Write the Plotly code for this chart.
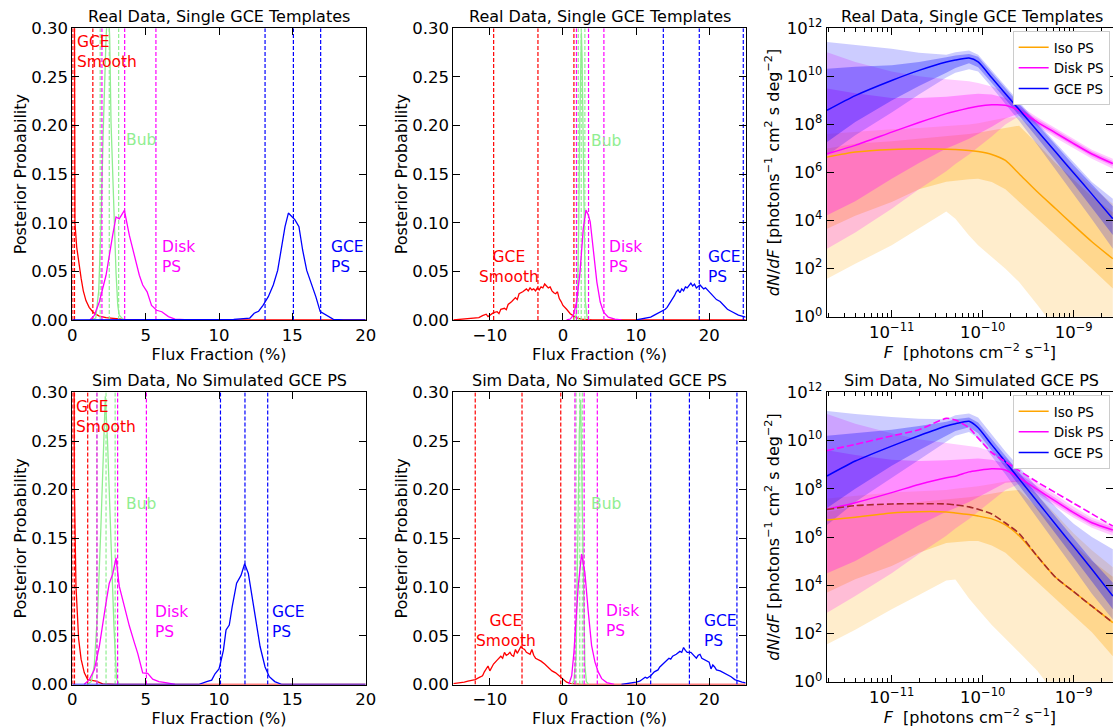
import plotly.graph_objects as go

W, H = 1113, 728
FONT = "DejaVu Sans"

RED, GREEN, MAG, BLUE, ORANGE, BROWN = "#ff0000", "#90ee90", "#ff00ff", "#0000ff", "#ffa500", "#a52a2a"

# ================= posterior histograms =================
# Panel A : Real Data, Single GCE Templates (flux fraction 0..20)
A_SMOOTH_X = [0.1, 0.18, 0.3, 0.45, 0.6, 0.75, 0.93, 1.15, 1.39, 1.6, 1.84, 2.3, 3.0, 3.5, 5.0, 20.0]
A_SMOOTH_Y = [0.6, 0.10, 0.075, 0.058, 0.043, 0.03, 0.02, 0.013, 0.0085, 0.006, 0.004, 0.0025, 0.0015, 0.0005, 0.0002, 0.0]
A_BUB_X = [1.3, 1.6, 1.8, 1.96, 2.1, 2.18, 2.3, 2.44, 2.55, 2.64, 2.8, 2.98, 3.1, 3.2, 3.5]
A_BUB_Y = [0, 0.002, 0.03, 0.10, 0.19, 0.24, 0.29, 0.33, 0.29, 0.203, 0.12, 0.049, 0.015, 0.005, 0]
A_DISK_X = [1.2, 1.5, 1.84, 2.3, 2.75, 2.98, 3.2, 3.55, 3.89, 4.23, 4.57, 4.8, 5.1, 5.4, 5.75, 6.1, 6.55, 7.0, 8.0]
A_DISK_Y = [0, 0.0048, 0.0185, 0.046, 0.087, 0.106, 0.104, 0.1127, 0.087, 0.066, 0.046, 0.036, 0.029, 0.015, 0.010, 0.0085, 0.0035, 0.001, 0]
A_GCE_X = [0, 10, 11, 12.1, 12.4, 12.7, 13.0, 13.36, 13.7, 14.0, 14.27, 14.5, 14.73, 14.95, 15.18, 15.45, 15.7, 15.98, 16.3, 16.6, 16.9, 17.1, 17.45, 17.8, 18.5, 20]
A_GCE_Y = [0, 0, 0.0005, 0.002, 0.007, 0.009, 0.015, 0.024, 0.036, 0.051, 0.075, 0.096, 0.11, 0.106, 0.103, 0.096, 0.072, 0.051, 0.038, 0.024, 0.0086, 0.007, 0.0034, 0.0007, 0, 0]
A_SMOOTH_Q = [0.03, 0.15, 1.4]
A_BUB_Q = [1.9, 2.52, 3.16]
A_DISK_Q = [2.02, 3.57, 5.7]
A_GCE_Q = [13.14, 15.07, 16.93]

# Panel B : Real Data (flux fraction -15..25)
B_SMOOTH_X = [-15, -14.5, -14, -13.5, -13, -12.5, -12, -11.5, -11, -10.5, -10.25, -10, -9.5, -9, -8.75, -8.5, -8, -7.75,
              -7.5, -7, -6.5, -6.25, -6, -5.5, -5, -4.75, -4.5, -4.25, -4, -3.75, -3.5, -3.25, -3, -2.75, -2.5, -2.25,
              -2, -1.75, -1.5, -1.25, -1, -0.75, -0.5, -0.25, 0, 0.5, 1, 1.5, 2, 2.5, 3, 4, 25]
B_SMOOTH_Y = [0, 0.0003, 0.0005, 0.0008, 0.0012, 0.0015, 0.002, 0.0025, 0.0045, 0.006, 0.0035, 0.005, 0.0075, 0.0085,
              0.0065, 0.011, 0.012, 0.0105, 0.016, 0.019, 0.023, 0.021, 0.027, 0.029, 0.032, 0.03, 0.033, 0.031, 0.032,
              0.03, 0.033, 0.031, 0.034, 0.033, 0.037, 0.035, 0.033, 0.034, 0.03, 0.028, 0.027, 0.029, 0.022, 0.019,
              0.015, 0.011, 0.0065, 0.004, 0.002, 0.001, 0.0005, 0, 0]
B_BUB_X = [1.5, 1.8, 2.0, 2.15, 2.3, 2.42, 2.52, 2.62, 2.75, 2.9, 3.05, 3.3, 3.6]
B_BUB_Y = [0, 0.005, 0.03, 0.09, 0.2, 0.275, 0.296, 0.27, 0.18, 0.08, 0.02, 0.003, 0]
B_DISK_X = [0.5, 1.0, 1.42, 1.87, 2.33, 2.78, 3.15, 3.47, 3.73, 4.19, 4.64, 5.1, 5.56, 6.2, 7.1, 8.0]
B_DISK_Y = [0, 0.001, 0.005, 0.0185, 0.049, 0.094, 0.113, 0.108, 0.101, 0.066, 0.039, 0.0185, 0.008, 0.003, 0.001, 0]
B_GCE_X = [10, 11, 12, 12.5, 13, 13.5, 14, 14.25, 14.5, 14.75, 15, 15.25, 15.5, 15.75, 16, 16.25, 16.5, 16.75, 17, 17.25,
           17.5, 17.75, 18, 18.25, 18.5, 18.75, 19, 19.25, 19.5, 19.75, 20, 20.25, 20.5, 20.75, 21, 21.5, 22, 22.5, 23,
           23.5, 24, 24.5, 25]
B_GCE_Y = [0, 0.0015, 0.003, 0.005, 0.007, 0.0085, 0.011, 0.013, 0.016, 0.019, 0.021, 0.025, 0.029, 0.031, 0.028, 0.032,
           0.03, 0.034, 0.033, 0.036, 0.038, 0.035, 0.037, 0.033, 0.035, 0.036, 0.034, 0.032, 0.033, 0.031, 0.03, 0.027,
           0.025, 0.023, 0.021, 0.019, 0.015, 0.011, 0.009, 0.007, 0.005, 0.004, 0.003]
B_SMOOTH_Q = [-9.48, -3.42, 1.5]
B_BUB_Q = [2.1, 2.5, 3.0]
B_DISK_Q = [1.85, 3.5, 5.6]
B_GCE_Q = [13.73, 18.65, 24.67]

# Panel D : Sim Data, No Simulated GCE PS (flux fraction 0..20)
D_SMOOTH_X = [0.08, 0.14, 0.25, 0.43, 0.6, 0.82, 1.05, 1.28, 1.62, 2.07, 3.0, 20.0]
D_SMOOTH_Y = [0.6, 0.204, 0.101, 0.047, 0.026, 0.012, 0.005, 0.0045, 0.0035, 0.0006, 0, 0]
D_BUB_X = [1.0, 1.3, 1.5, 1.73, 1.95, 2.16, 2.25, 2.4, 2.61, 2.84, 3.02, 3.2]
D_BUB_Y = [0, 0.003, 0.02, 0.076, 0.162, 0.265, 0.296, 0.25, 0.162, 0.059, 0.006, 0]
D_DISK_X = [0.8, 1.16, 1.5, 1.84, 2.3, 2.52, 2.75, 2.98, 3.2, 3.55, 3.89, 4.23, 4.46, 4.8, 5.14, 5.48, 5.9, 6.36, 7.0]
D_DISK_Y = [0, 0.005, 0.015, 0.039, 0.084, 0.104, 0.113, 0.130, 0.101, 0.080, 0.06, 0.043, 0.032, 0.012, 0.0115, 0.0055, 0.003, 0.002, 0]
D_GCE_X = [0, 8.6, 9.16, 9.5, 9.73, 10.0, 10.1, 10.3, 10.48, 10.7, 10.9, 11.2, 11.5, 11.75, 12.0, 12.23, 12.52, 12.8, 13.14, 13.43, 13.8, 14.3, 20]
D_GCE_Y = [0, 0, 0.003, 0.0045, 0.011, 0.016, 0.022, 0.035, 0.056, 0.061, 0.08, 0.104, 0.112, 0.124, 0.114, 0.093, 0.066, 0.039, 0.018, 0.008, 0.003, 0, 0]
D_SMOOTH_Q = [0.03, 0.15, 1.05]
D_BUB_Q = [1.68, 2.3, 2.92]
D_DISK_Q = [1.68, 3.09, 5.05]
D_GCE_Q = [10.1, 11.77, 13.32]

# Panel E : Sim Data (flux fraction -15..25)
E_SMOOTH_X = [-15, -14.5, -14, -13.5, -13, -12.5, -12, -11.5, -11, -10.75, -10.5, -10.25, -10, -9.75, -9.5, -9, -8.5,
              -8.25, -8, -7.75, -7.5, -7.25, -7, -6.75, -6.5, -6.25, -6, -5.75, -5.5, -5.25, -5, -4.75, -4.5, -4.25, -4,
              -3.75, -3.5, -3, -2.5, -2, -1.5, -1, -0.5, 0, 0.5, 1, 1.5, 2.5, 25]
E_SMOOTH_Y = [0.001, 0.0013, 0.0017, 0.0025, 0.0034, 0.0042, 0.005, 0.007, 0.009, 0.013, 0.016, 0.019, 0.014, 0.017,
              0.021, 0.025, 0.029, 0.027, 0.033, 0.03, 0.031, 0.033, 0.03, 0.029, 0.036, 0.032, 0.035, 0.039, 0.037,
              0.036, 0.033, 0.032, 0.031, 0.036, 0.03, 0.027, 0.026, 0.024, 0.021, 0.017, 0.014, 0.012, 0.0086, 0.005,
              0.0024, 0.0012, 0.0005, 0, 0]
E_BUB_X = [1.2, 1.5, 1.8, 2.05, 2.24, 2.42, 2.6, 2.8, 3.0, 3.2, 3.5]
E_BUB_Y = [0, 0.004, 0.03, 0.15, 0.26, 0.292, 0.2, 0.08, 0.02, 0.003, 0]
E_DISK_X = [0.8, 1.2, 1.5, 1.8, 2.1, 2.55, 3.0, 3.47, 3.92, 4.38, 4.84, 5.3, 6.0, 7.0]
E_DISK_Y = [0, 0.009, 0.033, 0.068, 0.102, 0.134, 0.115, 0.074, 0.040, 0.023, 0.0127, 0.006, 0.002, 0]
E_GCE_X = [8, 9, 9.5, 10, 10.5, 11, 11.25, 11.5, 12, 12.5, 13, 13.25, 13.5, 14, 14.5, 14.75, 15, 15.5, 16, 16.25, 16.5,
           16.75, 17, 17.5, 17.75, 18, 18.25, 18.5, 18.75, 19, 19.25, 19.5, 19.75, 20, 20.25, 20.5, 20.75, 21, 21.5, 22,
           22.5, 23, 23.5, 24, 24.5, 25]
E_GCE_Y = [0, 0.001, 0.0017, 0.0025, 0.0034, 0.006, 0.0075, 0.0065, 0.009, 0.013, 0.015, 0.018, 0.02, 0.024, 0.027,
           0.026, 0.029, 0.031, 0.034, 0.033, 0.038, 0.035, 0.033, 0.033, 0.031, 0.029, 0.027, 0.03, 0.031, 0.027, 0.026,
           0.025, 0.024, 0.023, 0.016, 0.02, 0.018, 0.015, 0.014, 0.012, 0.01, 0.008, 0.005, 0.0035, 0.0025, 0.0017]
E_SMOOTH_Q = [-12.0, -5.6, -0.3]
E_BUB_Q = [1.8, 2.3, 2.65]
E_DISK_Q = [1.64, 2.9, 4.7]
E_GCE_Q = [12.0, 17.3, 23.8]

# ================= source-count functions (log10 values) =================
LOG_F = [-11.71, -11.4, -11.0, -10.7, -10.4, -10.3, -10.15, -10.05, -9.9, -9.75, -9.6, -9.4, -9.2, -9.0, -8.8, -8.57]

# Panel C : real data
C_ISO_MED = [6.64, 6.85, 6.96, 6.99, 6.97, 6.96, 6.92, 6.87, 6.75, 6.5, 5.95, 5.2, 4.5, 3.8, 3.12, 2.41]
C_ISO_68U = [7.0, 7.2, 7.3, 7.4, 7.5, 7.55, 7.6, 7.65, 7.75, 7.88, 7.95, 7.2, 6.4, 5.7, 5.0, 4.35]
C_ISO_68L = [3.66, 4.2, 4.77, 5.3, 5.62, 5.67, 5.72, 5.74, 5.6, 5.3, 4.8, 4.1, 3.38, 2.7, 2.0, 1.17]
C_ISO_95U = [7.6, 7.7, 7.8, 7.85, 7.92, 7.95, 8.0, 8.05, 8.15, 8.28, 8.3, 7.7, 6.9, 6.1, 5.4, 4.7]
C_ISO_95L = [1.58, 2.2, 2.97, 3.66, 4.38, 4.08, 3.38, 2.97, 2.48, 2.0, 1.44, 0.5, -0.5, -1.5, -2.5, -3.5]
C_DISK_MED = [6.78, 7.13, 7.68, 8.08, 8.45, 8.55, 8.68, 8.76, 8.82, 8.8, 8.58, 8.1, 7.65, 7.2, 6.77, 6.37]
C_DISK_68U = [9.5, 9.3, 9.1, 9.1, 9.15, 9.2, 9.25, 9.28, 9.25, 9.1, 8.7, 8.22, 7.77, 7.3, 6.87, 6.48]
C_DISK_68L = [4.22, 4.8, 5.74, 6.4, 7.0, 7.15, 7.4, 7.6, 7.9, 8.25, 8.45, 8.0, 7.55, 7.1, 6.67, 6.27]
C_DISK_95U = [11.0, 10.6, 10.2, 10.0, 9.88, 9.85, 9.8, 9.72, 9.58, 9.35, 8.8, 8.3, 7.85, 7.38, 6.95, 6.57]
C_DISK_95L = [2.83, 3.5, 4.49, 5.3, 6.05, 6.35, 6.75, 7.05, 7.5, 8.0, 8.35, 7.92, 7.45, 7.0, 6.57, 6.16]
C_GCE_MED = [8.59, 9.2, 9.83, 10.25, 10.6, 10.68, 10.76, 10.6, 9.94, 9.28, 8.62, 7.74, 6.86, 5.98, 5.1, 4.08]
C_GCE_68U = [10.32, 10.4, 10.46, 10.6, 10.8, 10.87, 10.93, 10.82, 10.15, 9.5, 8.85, 8.0, 7.15, 6.3, 5.5, 4.6]
C_GCE_68L = [7.27, 8.1, 9.0, 9.6, 10.15, 10.35, 10.55, 10.38, 9.72, 9.05, 8.38, 7.45, 6.5, 5.55, 4.55, 3.4]
C_GCE_95U = [11.43, 11.32, 11.15, 10.98, 10.9, 11.0, 11.08, 10.9, 10.25, 9.58, 8.92, 8.08, 7.24, 6.4, 5.6, 4.91]
C_GCE_95L = [6.71, 7.55, 8.5, 9.25, 9.95, 10.15, 10.3, 10.2, 9.55, 8.85, 8.15, 7.15, 6.15, 5.1, 4.05, 2.83]

# Panel F : simulated data
F_ISO_MED = [6.7, 6.82, 7.0, 7.05, 7.04, 7.0, 6.93, 6.87, 6.75, 6.5, 6.05, 5.2, 4.33, 3.73, 3.13, 2.45]
F_ISO_68U = [7.05, 7.25, 7.35, 7.45, 7.55, 7.6, 7.65, 7.7, 7.8, 7.9, 7.95, 7.2, 6.4, 5.7, 5.0, 4.35]
F_ISO_68L = [3.7, 4.25, 4.8, 5.35, 5.75, 5.8, 5.83, 5.83, 5.65, 5.35, 4.85, 4.15, 3.41, 2.75, 2.05, 1.06]
F_ISO_95U = [7.6, 7.7, 7.85, 7.9, 7.95, 8.0, 8.05, 8.1, 8.2, 8.3, 8.35, 7.75, 6.95, 6.15, 5.45, 4.75]
F_ISO_95L = [1.55, 2.15, 3.0, 3.6, 4.2, 4.24, 3.45, 3.0, 2.35, 1.8, 1.22, 0.45, -0.5, -1.5, -2.5, -3.5]
F_DISK_MED = [7.15, 7.42, 7.84, 8.18, 8.46, 8.52, 8.7, 8.76, 8.83, 8.78, 8.46, 7.97, 7.49, 7.01, 6.59, 6.29]
F_DISK_68U = [9.6, 9.4, 9.2, 9.15, 9.18, 9.2, 9.25, 9.25, 9.2, 9.05, 8.62, 8.1, 7.62, 7.12, 6.7, 6.4]
F_DISK_68L = [4.5, 5.0, 5.85, 6.5, 7.05, 7.2, 7.45, 7.65, 7.95, 8.25, 8.3, 7.85, 7.37, 6.9, 6.48, 6.18]
F_DISK_95U = [11.1, 10.7, 10.3, 10.05, 9.9, 9.85, 9.8, 9.72, 9.55, 9.3, 8.75, 8.25, 7.75, 7.25, 6.8, 6.5]
F_DISK_95L = [2.86, 3.55, 4.5, 5.3, 6.05, 6.35, 6.75, 7.05, 7.5, 7.95, 8.2, 7.75, 7.27, 6.8, 6.38, 6.05]
F_GCE_MED = [8.53, 9.15, 9.77, 10.2, 10.6, 10.7, 10.8, 10.53, 9.82, 9.12, 8.41, 7.47, 6.53, 5.6, 4.66, 3.55]
F_GCE_68U = [10.2, 10.3, 10.45, 10.6, 10.78, 10.88, 10.95, 10.75, 10.05, 9.35, 8.65, 7.75, 6.85, 5.95, 5.05, 4.1]
F_GCE_68L = [7.2, 8.0, 8.95, 9.6, 10.2, 10.4, 10.55, 10.3, 9.58, 8.88, 8.15, 7.15, 6.15, 5.15, 4.15, 3.0]
F_GCE_95U = [11.22, 11.1, 10.98, 10.9, 10.88, 11.05, 11.12, 10.95, 10.25, 9.55, 8.9, 8.05, 7.25, 6.55, 6.0, 5.49]
F_GCE_95L = [6.5, 7.45, 8.45, 9.2, 9.95, 10.2, 10.35, 10.1, 9.35, 8.6, 7.85, 6.8, 5.75, 4.7, 3.65, 2.58]
F_DISK_TRUE = [9.59, 9.84, 10.19, 10.45, 10.92, 10.85, 10.53, 10.1, 9.5, 9.12, 8.75, 8.28, 7.84, 7.4, 6.96, 6.45]
F_ISO_TRUE = [7.14, 7.3, 7.37, 7.38, 7.37, 7.33, 7.25, 7.15, 6.95, 6.58, 6.15, 5.2, 4.33, 3.73, 3.13, 2.45]

HIST_YTICKS = [0.0, 0.05, 0.10, 0.15, 0.20, 0.25, 0.30]
LOG_YTICKS = [0, 2, 4, 6, 8, 10, 12]
LOG_XTICKS = [-11, -10, -9]

# ================= layout geometry (pixels) =================
def xdom(l, r):
    return [l / W, min(r / W, 1.0)]

def ydom(top, bottom):
    return [1 - bottom / H, 1 - top / H]

PANELS = {
    1: dict(x=xdom(72.3, 365.7), y=ydom(28.3, 320.0)),
    2: dict(x=xdom(453.3, 745.7), y=ydom(28.3, 320.0)),
    3: dict(x=xdom(826.7, 1113), y=ydom(28.3, 316.7)),
    4: dict(x=xdom(72.3, 365.7), y=ydom(392.3, 684.5)),
    5: dict(x=xdom(453.3, 745.7), y=ydom(392.3, 684.5)),
    6: dict(x=xdom(826.7, 1113), y=ydom(392.3, 681.7)),
}

fig = go.Figure()


def ax(n):
    return ("x" if n == 1 else f"x{n}"), ("y" if n == 1 else f"y{n}")


def curve(n, xs, ys, color, width=1.3, dash=None, name=None, legend=None, shape="linear"):
    xa, ya = ax(n)
    fig.add_trace(go.Scatter(x=xs, y=ys, mode="lines", xaxis=xa, yaxis=ya,
                             line=dict(color=color, width=width, dash=dash, shape=shape,
                                       smoothing=0.6 if shape == "spline" else None),
                             name=name, showlegend=name is not None,
                             legend=legend, hoverinfo="skip"))


def vlines(n, qs, color):
    xs, ys = [], []
    for q in qs:
        xs += [q, q, None]
        ys += [0, 0.3, None]
    curve(n, xs, ys, color, width=1.2, dash="4px,2px")


def hist_panel(n, smooth, bub, disk, gce):
    for (xs, ys, qs), col in zip([smooth, bub, disk, gce], [RED, GREEN, MAG, BLUE]):
        curve(n, xs, ys, col)
        vlines(n, qs, col)


hist_panel(1, (A_SMOOTH_X, A_SMOOTH_Y, A_SMOOTH_Q), (A_BUB_X, A_BUB_Y, A_BUB_Q),
           (A_DISK_X, A_DISK_Y, A_DISK_Q), (A_GCE_X, A_GCE_Y, A_GCE_Q))
hist_panel(2, (B_SMOOTH_X, B_SMOOTH_Y, B_SMOOTH_Q), (B_BUB_X, B_BUB_Y, B_BUB_Q),
           (B_DISK_X, B_DISK_Y, B_DISK_Q), (B_GCE_X, B_GCE_Y, B_GCE_Q))
hist_panel(4, (D_SMOOTH_X, D_SMOOTH_Y, D_SMOOTH_Q), (D_BUB_X, D_BUB_Y, D_BUB_Q),
           (D_DISK_X, D_DISK_Y, D_DISK_Q), (D_GCE_X, D_GCE_Y, D_GCE_Q))
hist_panel(5, (E_SMOOTH_X, E_SMOOTH_Y, E_SMOOTH_Q), (E_BUB_X, E_BUB_Y, E_BUB_Q),
           (E_DISK_X, E_DISK_Y, E_DISK_Q), (E_GCE_X, E_GCE_Y, E_GCE_Q))


def band(n, lo, hi, rgb, alpha):
    xa, ya = ax(n)
    fx = [10 ** v for v in LOG_F] + [10 ** v for v in reversed(LOG_F)]
    fy = [10 ** v for v in hi] + [10 ** v for v in reversed(lo)]
    fig.add_trace(go.Scatter(x=fx, y=fy, mode="lines", fill="toself", xaxis=xa, yaxis=ya,
                             fillcolor=f"rgba({rgb},{alpha})", line=dict(width=0, color="rgba(0,0,0,0)"),
                             showlegend=False, hoverinfo="skip"))


def dnds_panel(n, iso, disk, gce, legend):
    for comp, rgb in [(iso, "255,165,0"), (disk, "255,0,255"), (gce, "0,0,255")]:
        med, u68, l68, u95, l95 = comp
        band(n, l95, u95, rgb, 0.2)
        band(n, l68, u68, rgb, 0.3)
    for comp, col, name in [(iso, ORANGE, "Iso PS"), (disk, MAG, "Disk PS"), (gce, BLUE, "GCE PS")]:
        curve(n, [10 ** v for v in LOG_F], [10 ** v for v in comp[0]], col, width=1.5, name=name,
              legend=legend, shape="spline")


dnds_panel(3, (C_ISO_MED, C_ISO_68U, C_ISO_68L, C_ISO_95U, C_ISO_95L),
           (C_DISK_MED, C_DISK_68U, C_DISK_68L, C_DISK_95U, C_DISK_95L),
           (C_GCE_MED, C_GCE_68U, C_GCE_68L, C_GCE_95U, C_GCE_95L), "legend")
dnds_panel(6, (F_ISO_MED, F_ISO_68U, F_ISO_68L, F_ISO_95U, F_ISO_95L),
           (F_DISK_MED, F_DISK_68U, F_DISK_68L, F_DISK_95U, F_DISK_95L),
           (F_GCE_MED, F_GCE_68U, F_GCE_68L, F_GCE_95U, F_GCE_95L), "legend2")
curve(6, [10 ** v for v in LOG_F], [10 ** v for v in F_DISK_TRUE], MAG, width=1.6, dash="7px,3px", shape="spline")
curve(6, [10 ** v for v in LOG_F], [10 ** v for v in F_ISO_TRUE], BROWN, width=1.6, dash="7px,3px", shape="spline")

# ================= axes =================
tickfont = dict(family=FONT, size=16.5, color="black")
titlefont = dict(family=FONT, size=16, color="black")
base = dict(showline=True, linecolor="black", linewidth=1, mirror="ticks", ticks="inside", ticklen=7,
            tickwidth=1, tickcolor="black", showgrid=False, zeroline=False, tickfont=tickfont,
            automargin=False)

sup = lambda e: "10<sup>" + str(e).replace("-", "\u2212") + "</sup>"

for n in (1, 2, 4, 5):
    xr = [0, 20] if n in (1, 4) else [-15, 25]
    xt = [0, 5, 10, 15, 20] if n in (1, 4) else [-10, 0, 10, 20]
    xk = "xaxis" if n == 1 else f"xaxis{n}"
    yk = "yaxis" if n == 1 else f"yaxis{n}"
    xa, ya = ax(n)
    fig.update_layout({
        xk: dict(base, domain=PANELS[n]["x"], anchor=ya, range=xr, tickvals=xt,
                 title=dict(text="Flux Fraction (%)", font=titlefont, standoff=3)),
        yk: dict(base, domain=PANELS[n]["y"], anchor=xa, range=[0, 0.3], tickvals=HIST_YTICKS,
                 tickformat=".2f", title=dict(text="Posterior Probability", font=titlefont, standoff=0)),
    })

minor_vals = [k * 10 ** e for e in (-12, -11, -10, -9) for k in range(2, 10)]
for n in (3, 6):
    xa, ya = ax(n)
    fig.update_layout({
        f"xaxis{n}": dict(base, domain=PANELS[n]["x"], anchor=ya, type="log", range=[-11.714, -8.568],
                          tickvals=[10 ** e for e in LOG_XTICKS], ticktext=[sup(e) for e in LOG_XTICKS],
                          minor=dict(ticks="inside", ticklen=4, tickcolor="black", tickvals=minor_vals),
                          title=dict(text="<i>F</i>  [photons cm<sup>\u22122</sup> s<sup>\u22121</sup>]",
                                     font=titlefont, standoff=3)),
        f"yaxis{n}": dict(base, domain=PANELS[n]["y"], anchor=xa, type="log", range=[0, 12],
                          tickvals=[10 ** e for e in LOG_YTICKS], ticktext=[sup(e) for e in LOG_YTICKS],
                          title=dict(text="<i>dN</i>/<i>dF</i> [photons<sup>\u22121</sup> cm<sup>2</sup> s deg<sup>\u22122</sup>]",
                                     font=titlefont, standoff=3)),
    })

# ================= titles & labels =================
TITLES = {1: "Real Data, Single GCE Templates", 2: "Real Data, Single GCE Templates",
          3: "Real Data, Single GCE Templates", 4: "Sim Data, No Simulated GCE PS",
          5: "Sim Data, No Simulated GCE PS", 6: "Sim Data, No Simulated GCE PS"}
for n, t in TITLES.items():
    xa, ya = ax(n)
    fig.add_annotation(text=t, xref=f"{xa} domain", yref=f"{ya} domain", x=0.5 if n not in (3, 6) else 0.506,
                       y=1.0, xanchor="center", yanchor="bottom", yshift=0, showarrow=False,
                       font=dict(family=FONT, size=16, color="black"))

LABELS = [
    (1, "GCE<br>Smooth", 0.15, 0.276, RED, "left"), (1, "Bub", 3.52, 0.185, GREEN, "left"),
    (1, "Disk<br>PS", 6.0, 0.065, MAG, "left"), (1, "GCE<br>PS", 17.5, 0.065, BLUE, "left"),
    (2, "GCE<br>Smooth", -7.4, 0.0545, RED, "center"), (2, "Bub", 3.56, 0.184, GREEN, "left"),
    (2, "Disk<br>PS", 6.07, 0.065, MAG, "left"), (2, "GCE<br>PS", 19.56, 0.0545, BLUE, "left"),
    (4, "GCE<br>Smooth", 0.12, 0.275, RED, "left"), (4, "Bub", 3.52, 0.185, GREEN, "left"),
    (4, "Disk<br>PS", 5.52, 0.064, MAG, "left"), (4, "GCE<br>PS", 13.5, 0.064, BLUE, "left"),
    (5, "GCE<br>Smooth", -7.84, 0.055, RED, "center"), (5, "Bub", 3.56, 0.185, GREEN, "left"),
    (5, "Disk<br>PS", 5.6, 0.065, MAG, "left"), (5, "GCE<br>PS", 19.06, 0.055, BLUE, "left"),
]
for n, t, x, y, col, anc in LABELS:
    xa, ya = ax(n)
    fig.add_annotation(text=t, xref=xa, yref=ya, x=x, y=y, xanchor=anc, yanchor="middle", align=anc,
                       showarrow=False, font=dict(family=FONT, size=15.5, color=col))

legend_style = dict(xanchor="right", yanchor="top", x=0.997, bgcolor="white", bordercolor="#cccccc",
                    borderwidth=1, font=dict(family=FONT, size=13.5, color="black"), itemwidth=30,
                    tracegroupgap=0)
fig.update_layout(
    template="none",
    width=W, height=H, margin=dict(l=0, r=0, t=0, b=0, autoexpand=False),
    paper_bgcolor="white", plot_bgcolor="white",
    font=dict(family=FONT, size=15, color="black"),
    legend=dict(legend_style, y=1 - 31 / H),
    legend2=dict(legend_style, y=1 - 395 / H),
)

fig.write_html("out.html")
